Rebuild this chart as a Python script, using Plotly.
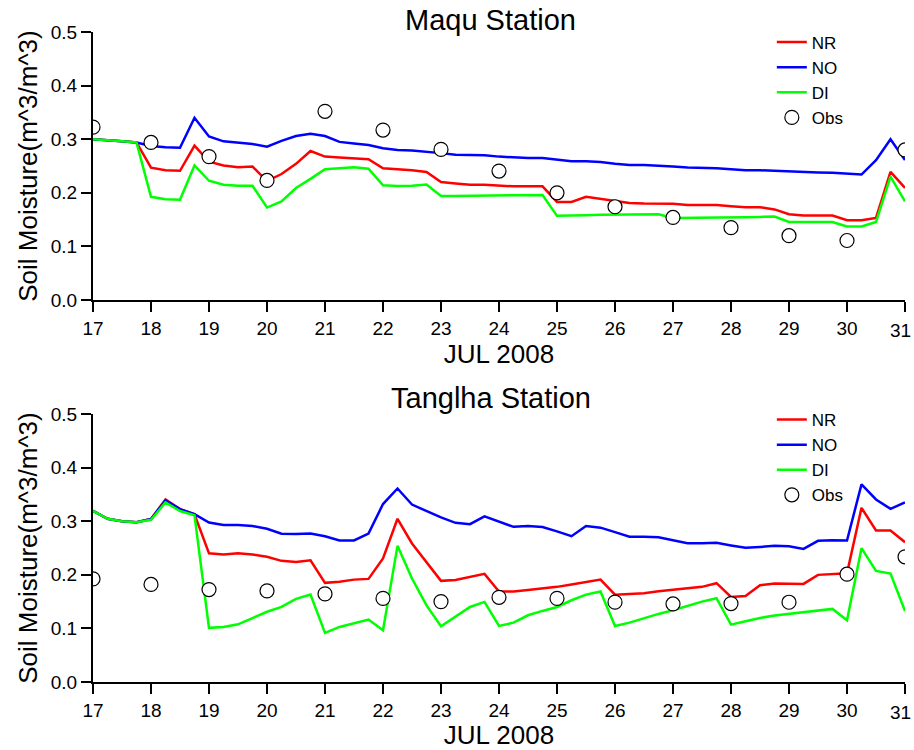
import plotly.graph_objects as go

# time axis: 6-hourly steps, 17 JUL to 31 JUL 2008
steps = list(range(57))
days = [17 + s / 4 for s in steps]
obs_days = list(range(17, 32))
tick_vals = list(range(17, 32))
tick_text = [str(d) for d in tick_vals]
last_label = tick_text[-1]
tick_text[-1] = ""  # last label drawn as an annotation so it stays inside the page

# ---- Maqu Station ----
maqu_nr = [0.300, 0.2975, 0.296, 0.294, 0.247, 0.242, 0.241, 0.288, 0.258, 0.251,
           0.2475, 0.249, 0.222, 0.235, 0.254, 0.278, 0.2675, 0.266, 0.264, 0.2625,
           0.2456, 0.244, 0.242, 0.239, 0.220, 0.2175, 0.215, 0.215, 0.213, 0.212,
           0.212, 0.212, 0.183, 0.183, 0.1925, 0.189, 0.185, 0.181, 0.180, 0.1794,
           0.1794, 0.177, 0.177, 0.177, 0.175, 0.173, 0.173, 0.169, 0.160, 0.1575,
           0.1575, 0.1575, 0.149, 0.149, 0.153, 0.239, 0.209]
maqu_no = [0.300, 0.2975, 0.296, 0.294, 0.2875, 0.285, 0.284, 0.340, 0.305, 0.296,
           0.294, 0.291, 0.286, 0.297, 0.306, 0.310, 0.306, 0.295, 0.292, 0.289,
           0.283, 0.280, 0.279, 0.277, 0.274, 0.271, 0.2706, 0.270, 0.2675, 0.2656,
           0.265, 0.265, 0.262, 0.259, 0.259, 0.2575, 0.254, 0.252, 0.252, 0.251,
           0.249, 0.247, 0.247, 0.246, 0.244, 0.242, 0.242, 0.241, 0.240, 0.238,
           0.238, 0.2375, 0.2356, 0.234, 0.261, 0.300, 0.261]
maqu_di = [0.300, 0.2975, 0.296, 0.294, 0.1925, 0.188, 0.187, 0.251, 0.2225, 0.215,
           0.213, 0.213, 0.1725, 0.184, 0.209, 0.226, 0.244, 0.2456, 0.2475, 0.245,
           0.214, 0.2125, 0.213, 0.2156, 0.194, 0.194, 0.1944, 0.1944, 0.1944, 0.195,
           0.1956, 0.196, 0.157, 0.157, 0.158, 0.159, 0.159, 0.159, 0.160, 0.160,
           0.153, 0.153, 0.153, 0.153, 0.154, 0.1544, 0.155, 0.1556, 0.1456, 0.1456,
           0.1456, 0.1456, 0.137, 0.137, 0.1456, 0.230, 0.184]
maqu_obs = [0.3225, 0.294, 0.2675, 0.223, 0.352, 0.317, 0.281, 0.2406, 0.200, 0.174,
            0.154, 0.135, 0.120, 0.111, 0.280]

# ---- Tanglha Station ----
tang_nr = [0.3194, 0.3045, 0.300, 0.298, 0.304, 0.3405, 0.3225, 0.313, 0.240, 0.238,
           0.240, 0.238, 0.2335, 0.226, 0.224, 0.227, 0.185, 0.187, 0.191, 0.1924,
           0.2304, 0.3045, 0.2584, 0.2235, 0.1887, 0.1905, 0.1955, 0.2017, 0.1687, 0.1687,
           0.1718, 0.1743, 0.1775, 0.1818, 0.1862, 0.191, 0.163, 0.1637, 0.1656, 0.1694,
           0.1725, 0.1743, 0.1775, 0.1843, 0.1588, 0.1606, 0.1806, 0.1837, 0.1837, 0.183,
           0.1999, 0.2011, 0.203, 0.325, 0.2827, 0.2827, 0.2609]
tang_no = [0.3194, 0.3045, 0.300, 0.298, 0.304, 0.339, 0.3225, 0.313, 0.2976, 0.293,
           0.2927, 0.291, 0.286, 0.2765, 0.276, 0.277, 0.272, 0.264, 0.264, 0.277,
           0.332, 0.361, 0.331, 0.319, 0.307, 0.297, 0.2945, 0.309, 0.2995, 0.2895,
           0.291, 0.289, 0.281, 0.272, 0.291, 0.288, 0.2796, 0.271, 0.271, 0.270,
           0.2646, 0.259, 0.259, 0.2597, 0.2547, 0.2503, 0.252, 0.254, 0.2534, 0.2484,
           0.2634, 0.2646, 0.264, 0.3686, 0.3406, 0.323, 0.335]
tang_di = [0.3194, 0.3045, 0.300, 0.298, 0.3026, 0.335, 0.319, 0.311, 0.101, 0.1027,
           0.1077, 0.1195, 0.131, 0.140, 0.155, 0.163, 0.0915, 0.1027, 0.109, 0.1164,
           0.0965, 0.254, 0.193, 0.143, 0.104, 0.1214, 0.140, 0.1494, 0.1046, 0.1108,
           0.1245, 0.1326, 0.140, 0.1525, 0.163, 0.169, 0.1046, 0.1108, 0.1195, 0.127,
           0.1339, 0.1426, 0.150, 0.1563, 0.1071, 0.1133, 0.1195, 0.1239, 0.127, 0.1308,
           0.1339, 0.1364, 0.1152, 0.2497, 0.2073, 0.2024, 0.1326]
tang_obs = [0.1924, 0.182, 0.1725, 0.170, 0.1644, 0.156, 0.150, 0.158, 0.156, 0.149,
            0.1457, 0.1463, 0.1488, 0.2011, 0.2335]

FONT = "Liberation Sans, Arial, sans-serif"
RED, BLUE, GREEN = "#ff0000", "#0000ff", "#00ff00"
TICK_SIZE = 19

fig = go.Figure()

def add_station(nr, no, di, obs, xa, ya, leg):
    for name, vals, col in (("NR", nr, RED), ("NO", no, BLUE), ("DI", di, GREEN)):
        fig.add_trace(go.Scatter(x=days, y=vals, mode="lines", name=name,
                                 line=dict(color=col, width=2.5),
                                 xaxis=xa, yaxis=ya, legend=leg))
    fig.add_trace(go.Scatter(x=obs_days, y=obs, mode="markers", name="Obs",
                             marker=dict(symbol="circle", size=14, color="white",
                                         line=dict(color="black", width=1.2)),
                             xaxis=xa, yaxis=ya, legend=leg))

add_station(maqu_nr, maqu_no, maqu_di, maqu_obs, "x", "y", "legend")
add_station(tang_nr, tang_no, tang_di, tang_obs, "x2", "y2", "legend2")

axis_common = dict(showline=True, linecolor="black", linewidth=2, ticks="outside",
                   ticklen=10, tickwidth=2, tickcolor="black", showgrid=False,
                   zeroline=False, mirror=False, automargin=False,
                   tickfont=dict(family=FONT, size=TICK_SIZE, color="black"))

xcommon = dict(axis_common, range=[17, 31], tickvals=tick_vals, ticktext=tick_text,
               title=dict(text="JUL 2008", font=dict(family=FONT, size=26, color="black"),
                          standoff=2))
ycommon = dict(axis_common, range=[0, 0.5], tickvals=[0, 0.1, 0.2, 0.3, 0.4, 0.5],
               ticktext=["0.0", "0.1", "0.2", "0.3", "0.4", "0.5"],
               title=dict(text="Soil Moisture(m^3/m^3)",
                          font=dict(family=FONT, size=26, color="black"), standoff=6))

legend_common = dict(font=dict(family=FONT, size=17, color="black"),
                     bgcolor="rgba(0,0,0,0)", borderwidth=0, xanchor="left",
                     yanchor="top", tracegroupgap=0, itemwidth=30)

annotations = [
    dict(text="Maqu Station", x=0.49, y=1.0185, xref="paper", yref="paper",
         xanchor="center", yanchor="middle", showarrow=False,
         font=dict(family=FONT, size=29, color="black")),
    dict(text="Tanglha Station", x=0.49, y=0.4369, xref="paper", yref="paper",
         xanchor="center", yanchor="middle", showarrow=False,
         font=dict(family=FONT, size=29, color="black")),
]
for xr, yr in (("x", "y domain"), ("x2", "y2 domain")):
    annotations.append(dict(text=last_label, x=tick_vals[-1], y=0, xref=xr, yref=yr,
                            xanchor="right", yanchor="top", xshift=8, yshift=-18,
                            showarrow=False,
                            font=dict(family=FONT, size=TICK_SIZE, color="black")))

fig.update_layout(
    width=914, height=750,
    margin=dict(l=93, r=9, t=32, b=68, autoexpand=False),
    paper_bgcolor="white", plot_bgcolor="white",
    xaxis=dict(xcommon, domain=[0, 1], anchor="y"),
    yaxis=dict(ycommon, domain=[0.5877, 1], anchor="x"),
    xaxis2=dict(xcommon, domain=[0, 1], anchor="y2"),
    yaxis2=dict(ycommon, domain=[0, 0.4123], anchor="x2"),
    legend=dict(legend_common, x=0.836, y=1.0115),
    legend2=dict(legend_common, x=0.836, y=0.4308),
    annotations=annotations,
)

fig.write_html("out.html", config={"displayModeBar": False},
               post_script="document.body.style.margin='0';document.body.style.padding='0';")
